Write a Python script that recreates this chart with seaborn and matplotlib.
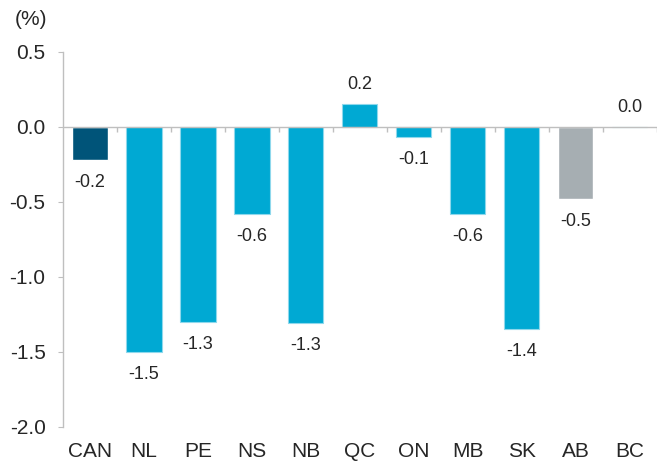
import seaborn as sns
import matplotlib.pyplot as plt
import numpy as np

# provinces and change (%)
regions = ['CAN', 'NL', 'PE', 'NS', 'NB', 'QC', 'ON', 'MB', 'SK', 'AB', 'BC']
change = [-0.22, -1.50, -1.30, -0.58, -1.31, 0.15, -0.07, -0.58, -1.35, -0.48, 0.0]
labels = ['-0.2', '-1.5', '-1.3', '-0.6', '-1.3', '0.2', '-0.1', '-0.6', '-1.4', '-0.5', '0.0']
colors = ['#005479'] + ['#00A9D3'] * 8 + ['#A6AEB2', '#00A9D3']

sns.set_style('white')
plt.rcParams['font.family'] = ['Liberation Sans', 'DejaVu Sans']
plt.rcParams['axes.unicode_minus'] = False

fig = plt.figure(figsize=(6.62, 4.63), dpi=100)
ax = fig.add_axes([0.0952, 0.0778, 0.897, 0.81])

sns.barplot(x=regions, y=change, hue=regions, palette=colors, legend=False,
            width=0.65, saturation=1, ax=ax)
for i, p in enumerate(ax.patches):
    if colors[i] == '#00A9D3':
        p.set_edgecolor('#8ED8EC')
        p.set_linewidth(0.8)

ax.set_ylim(-2.0, 0.5)
ax.set_xlim(-0.5, len(regions) - 0.5)
ax.set_yticks([0.5, 0.0, -0.5, -1.0, -1.5, -2.0])
ax.set_yticklabels(['0.5', '0.0', '-0.5', '-1.0', '-1.5', '-2.0'])

grey = '#BFBFBF'
for s in ['top', 'right', 'bottom']:
    ax.spines[s].set_visible(False)
ax.spines['left'].set_color(grey)
ax.spines['left'].set_linewidth(1)
ax.tick_params(axis='y', length=3.6, color=grey, labelsize=15, pad=9, left=True)
ax.tick_params(axis='x', length=0, labelsize=15, pad=11)

# zero line with category separators
ax.axhline(0, color=grey, lw=1, zorder=3)
ax.vlines(np.arange(len(regions)) + 0.5, 0, -0.035, color=grey, lw=1, zorder=3)

for i, (v, t) in enumerate(zip(change, labels)):
    if v > 0 or t == '0.0':
        ax.annotate(t, (i, v), xytext=(0, 8), textcoords='offset points',
                    ha='center', va='bottom', fontsize=13)
    else:
        ax.annotate(t, (i, v), xytext=(0, -10), textcoords='offset points',
                    ha='center', va='top', fontsize=13)

fig.text(0.0227, 0.957, '(%)', fontsize=15, va='center', ha='left')

fig.savefig('out.png', dpi=100)
